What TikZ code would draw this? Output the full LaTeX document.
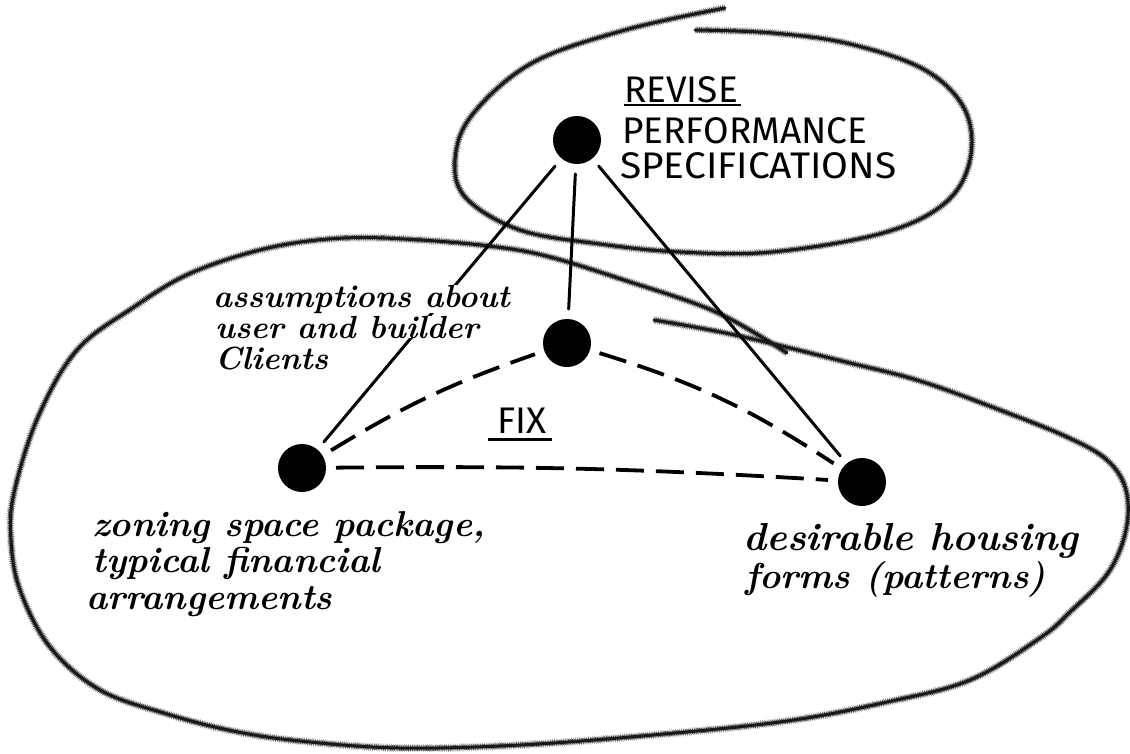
\documentclass[tikz,border=0pt]{standalone}
\usepackage{fontspec}
\newfontfamily\capsfont{Fira Sans}

\tikzset{
  dot/.style={circle, fill=black, minimum size=48pt, inner sep=0pt, outer sep=10pt},
  pen/.style={line width=3pt, line cap=round},
  dashpen/.style={line width=3.8pt, dash pattern=on 28pt off 12pt},
  caps/.style={font=\capsfont\fontsize{37}{37}\selectfont, inner sep=0pt, anchor=base west},
  hand/.style={font=\fontsize{36}{36}\selectfont\bfseries\itshape, inner sep=0pt, anchor=base west},
  smallhand/.style={hand, font=\fontsize{32}{32}\selectfont\bfseries\itshape},
  crayoncore/.style={black!90, line width=3pt, line cap=round, line join=round},
  crayonwax/.style={black!65, line width=5.5pt, dash pattern=on 1.1pt off 0.7pt},
  crayongrain/.style={black!35, line width=8pt, dash pattern=on 0.6pt off 1.3pt}
}
% one wax-crayon stroke through a list of points
\newcommand{\crayon}[1]{%
  \draw[crayongrain] plot[smooth, tension=0.6] coordinates {#1};
  \draw[crayonwax] plot[smooth, tension=0.6] coordinates {#1};
  \draw[crayoncore] plot[smooth, tension=0.6] coordinates {#1};}

\begin{document}
\begin{tikzpicture}[x=1pt, y=-1pt]
\useasboundingbox (0,0) rectangle (1130,753);

% --- crayon outlines ---
% small loop round the revise step
\crayon{(725,8) (625,30) (532,63) (472,115) (455,160) (466,198) (520,230)
  (600,244) (680,252) (772,252) (883,233) (945,203) (970,160) (965,110)
  (925,70) (850,44) (773,33) (695,30)}
% big loop round the fixed part
\crayon{(654,320) (735,335) (846,362) (920,381) (1000,410) (1067,437)
  (1107,460) (1126,490) (1126,530) (1108,573) (1070,612) (1040,638)
  (970,680) (887,702) (787,721) (653,735) (520,745) (400,748) (300,741)
  (233,731) (167,714) (100,690) (50,647) (20,590) (11,540) (14,493)
  (38,417) (77,350) (134,307) (191,273) (268,248) (344,238) (421,240)
  (497,247) (550,257) (624,280) (716,312) (787,353)}

% --- the four dots ---
\node[dot] (perf)   at (577,140) {};
\node[dot] (users)  at (567,343) {};
\node[dot] (zoning) at (302,468) {};
\node[dot] (forms)  at (862,482) {};

% revise links (solid)
\draw[pen] (perf) -- (zoning);
\draw[pen] (perf) -- (users);
\draw[pen] (perf) -- (forms);

% fixed links (dashed)
\draw[dashpen] (zoning) to[bend left=6] (users);
\draw[dashpen] (users) to[bend left=8] (forms);
\draw[dashpen] (zoning) to[bend left=2] (forms);

% --- labels ---
\node[caps] (revise)  at (624,102) {REVISE};
\node[caps] (perform) at (622,143) {PERFORMANCE};
\node[caps, xscale=1.05] (specs) at (620,178) {SPECIFICATIONS};
\draw[line width=2.5pt] ([yshift=-3pt]revise.base west) -- ([xshift=3pt,yshift=-3pt]revise.base east);

\node[caps] (fix) at (497,433) {FIX};
\draw[line width=3pt] ([xshift=-9pt,yshift=-6pt]fix.base west) -- ([xshift=6pt,yshift=-6pt]fix.base east);

\node[smallhand, fill=white] (assume1) at (213,307) {assumptions about};
\node[smallhand, fill=white] (assume2) at (215,338) {user and builder};
\node[smallhand] (assume3) at (215,369) {Clients};

\node[hand] (zone1) at (92,536) {zoning space package,};
\node[hand] (zone2) at (92,572) {typical financial};
\node[hand] (zone3) at (86,609) {arrangements};

\node[hand, font=\fontsize{39}{39}\selectfont\bfseries\itshape] (forms1) at (743,550) {desirable housing};
\node[hand] (forms2) at (745,588) {forms (patterns)};

\end{tikzpicture}
\end{document}
